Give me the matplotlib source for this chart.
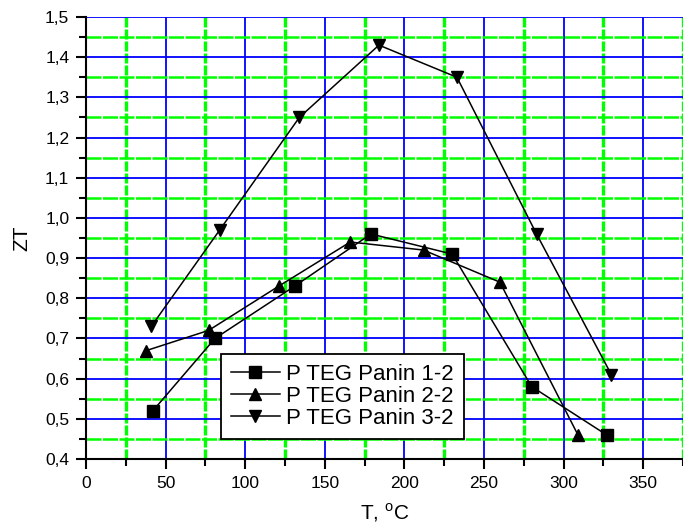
import matplotlib.pyplot as plt
from matplotlib.ticker import MultipleLocator, FuncFormatter

plt.rcParams['font.family'] = ['Liberation Sans', 'DejaVu Sans']

# data
t1 = [42, 81, 131, 179, 230, 280, 327]
zt1 = [0.52, 0.70, 0.83, 0.96, 0.91, 0.58, 0.46]
t2 = [38, 77, 121, 166, 212, 260, 309]
zt2 = [0.67, 0.72, 0.83, 0.94, 0.92, 0.84, 0.46]
t3 = [41, 84, 134, 184, 233, 283, 330]
zt3 = [0.73, 0.97, 1.25, 1.43, 1.35, 0.96, 0.61]
labels = ['P TEG Panin 1-2', 'P TEG Panin 2-2', 'P TEG Panin 3-2']

fig = plt.figure(figsize=(6.83, 5.28), dpi=100)
ax = fig.add_axes([86 / 683, 69 / 528, 597 / 683, 442 / 528])

# grid: blue major, green dashed minor
ax.xaxis.set_major_locator(MultipleLocator(50))
ax.xaxis.set_minor_locator(MultipleLocator(25))
ax.yaxis.set_major_locator(MultipleLocator(0.1))
ax.yaxis.set_minor_locator(MultipleLocator(0.05))
ax.grid(which='major', color='#0000ff', lw=1.3, ls='-')
ax.grid(which='minor', axis='x', color='#00ff00', lw=2.4, ls=(0, (3, 0.6)))
ax.grid(which='minor', axis='y', color='#00ff00', lw=1.8, ls=(0, (6, 0.6)))
ax.set_axisbelow(True)

ax.plot(t1, zt1, color='black', lw=1.1, marker='s', ms=8, label=labels[0])
ax.plot(t2, zt2, color='black', lw=1.1, marker='^', ms=9, label=labels[1])
ax.plot(t3, zt3, color='black', lw=1.1, marker='v', ms=9, label=labels[2])

ax.set_xlim(0, 375)
ax.set_ylim(0.4, 1.5)
ax.spines['top'].set_visible(False)
ax.spines['right'].set_visible(False)
ax.spines['left'].set_linewidth(1.5)
ax.spines['bottom'].set_linewidth(1.5)
ax.tick_params(which='major', direction='out', length=7, width=1.5, labelsize=12.5, pad=5)
ax.tick_params(which='minor', direction='out', length=5, width=1.5)
ax.set_xticks([0, 50, 100, 150, 200, 250, 300, 350])
ax.yaxis.set_major_formatter(FuncFormatter(lambda v, p: f'{v:.1f}'.replace('.', ',')))

ax.set_xlabel(r'T, $^{\mathregular{o}}$C', fontsize=15, labelpad=8)
ax.set_ylabel('ZT', fontsize=15, labelpad=10)

leg = ax.legend(loc='lower left', bbox_to_anchor=(0.226, 0.045), fontsize=16,
                frameon=True, fancybox=False, edgecolor='black', framealpha=1,
                handlelength=2.2, borderpad=0.45, labelspacing=0.05, handletextpad=0.3,
                borderaxespad=0)
leg.get_frame().set_linewidth(1.3)

fig.savefig('out.png', dpi=100)
